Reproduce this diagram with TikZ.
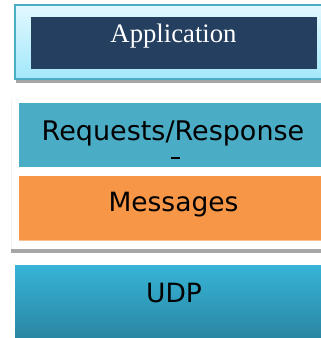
\documentclass[tikz,border=0pt]{standalone}
\usepackage{fontspec}
\setmainfont{Liberation Serif}
\newfontfamily\labelfont{DejaVu Sans}
\definecolor{appedge}{HTML}{4BACC6}
\definecolor{apptop}{HTML}{E2F8FF}
\definecolor{appbot}{HTML}{A2E8FA}
\definecolor{appdark}{HTML}{243F60}
\definecolor{reqblue}{HTML}{4BACC6}
\definecolor{msgorange}{HTML}{F79646}
\definecolor{udptop}{HTML}{37B4D7}
\definecolor{udpbot}{HTML}{2A86A3}
\definecolor{bargray}{HTML}{A6A6A6}
\definecolor{faint}{HTML}{F2F2F2}
\tikzset{
  layer/.style={font=\labelfont\fontsize{26.5}{30}\selectfont, text=black, anchor=base, inner sep=0pt},
}
\begin{document}
\begin{tikzpicture}[x=1pt,y=-1pt]
\useasboundingbox (0,0) rectangle (321,338);
% Application block
\fill[bargray] (16,79) rectangle (321,83);
\shade[top color=apptop,bottom color=appbot,draw=appedge,line width=2pt] (15,5) rectangle (323,79);
\fill[appdark] (31,17) rectangle (317,69);
\node[text=white,font=\fontsize{26.7}{30}\selectfont,anchor=base,inner sep=0pt] (app) at (173.5,42) {Application};
% faint frame line
\draw[faint,line width=0.8pt] (11,100) -- (11,249);
% Requests/Response
\fill[reqblue] (19,103) rectangle (321,167);
\node[layer,font=\labelfont\fontsize{27}{30}\selectfont] (req) at (173,140) {Requests/Response};
\fill[black] (171,157.3) rectangle (180,158.8);
% Messages
\fill[msgorange] (19,176) rectangle (321,240);
\draw[msgorange!60,line width=1pt] (19,240.5) -- (321,240.5);
\node[layer] (msg) at (173.5,211) {Messages};
% gray separator
\fill[bargray] (11,249) rectangle (321,253);
% UDP
\shade[top color=udptop,bottom color=udpbot] (15,265) rectangle (321,338);
\node[layer] (udp) at (174,302) {UDP};
\end{tikzpicture}
\end{document}
